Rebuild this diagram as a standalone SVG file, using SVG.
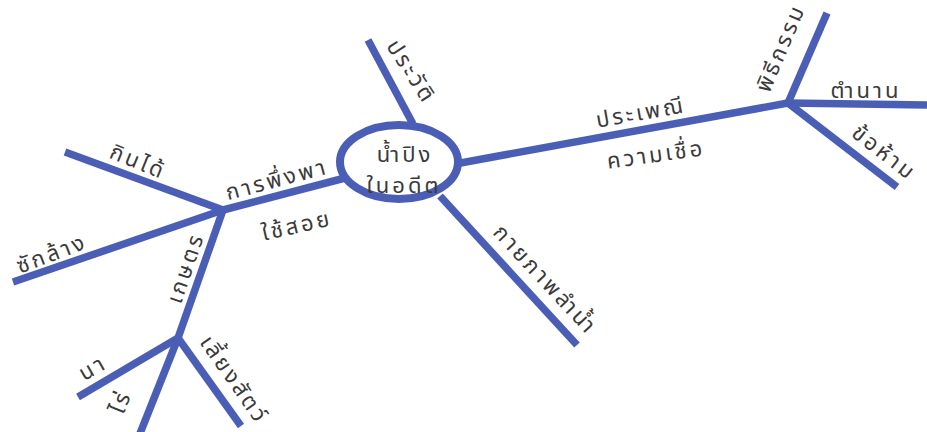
<svg xmlns="http://www.w3.org/2000/svg" width="927" height="432" viewBox="0 0 927 432">
<style>
.ln{stroke:#4b5eb5;stroke-width:7.5;stroke-linecap:butt;fill:none}
.t{font-family:"Noto Sans Thai","Noto Sans","DejaVu Sans",sans-serif;font-size:22px;fill:#3a3a3a;text-anchor:middle;letter-spacing:3px}
.c{font-size:22px;letter-spacing:3px}
</style>
<rect width="927" height="432" fill="#ffffff"/>
<g id="connectors">
<line class="ln" x1="368" y1="40" x2="413" y2="124"/>
<line class="ln" x1="455" y1="164" x2="788" y2="103"/>
<line class="ln" x1="788" y1="103" x2="827" y2="13"/>
<line class="ln" x1="788" y1="103" x2="927" y2="105"/>
<line class="ln" x1="788" y1="103" x2="897" y2="187"/>
<line class="ln" x1="440" y1="196" x2="577" y2="345"/>
<line class="ln" x1="345" y1="178" x2="223" y2="210"/>
<line class="ln" x1="223" y1="210" x2="65" y2="152"/>
<line class="ln" x1="223" y1="210" x2="13" y2="282"/>
<line class="ln" x1="223" y1="210" x2="178" y2="338"/>
<line class="ln" x1="178" y1="338" x2="78" y2="397"/>
<line class="ln" x1="178" y1="338" x2="139" y2="436"/>
<line class="ln" x1="178" y1="338" x2="241" y2="426"/>
</g>
<g id="center">
<ellipse cx="399" cy="162" rx="59" ry="37" fill="#ffffff" stroke="#4b5eb5" stroke-width="8"/>
<text class="t c" x="405" y="162">น้ำปิง</text>
<text class="t c" x="404" y="193">ในอดีต</text>
</g>
<g id="n-history"><text class="t" transform="translate(411,72) rotate(57)" y="7">ประวัติ</text></g>
<g id="n-tradition"><text class="t" transform="translate(641,113) rotate(-10)" y="7">ประเพณี</text></g>
<g id="n-belief"><text class="t" transform="translate(656,155) rotate(-8)" y="7">ความเชื่อ</text></g>
<g id="n-ritual"><text class="t" transform="translate(781,48) rotate(-67)" y="7">พิธีกรรม</text></g>
<g id="n-legend"><text class="t" transform="translate(866,91)" y="7">ตำนาน</text></g>
<g id="n-taboo"><text class="t" transform="translate(884,153) rotate(38)" y="7">ข้อห้าม</text></g>
<g id="n-physical"><text class="t" transform="translate(545,280) rotate(47)" y="7">กายภาพลำน้ำ</text></g>
<g id="n-reliance"><text class="t" transform="translate(277,180) rotate(-15)" y="7">การพึ่งพา</text></g>
<g id="n-use"><text class="t" transform="translate(297,226) rotate(-13)" y="7">ใช้สอย</text></g>
<g id="n-edible"><text class="t" transform="translate(138,162) rotate(22)" y="7">กินได้</text></g>
<g id="n-washing"><text class="t" transform="translate(52,254) rotate(-21)" y="7">ซักล้าง</text></g>
<g id="n-agri"><text class="t" transform="translate(186,268) rotate(-71)" y="7">เกษตร</text></g>
<g id="n-paddy"><text class="t" transform="translate(93,368) rotate(-30)" y="7">นา</text></g>
<g id="n-field"><text class="t" transform="translate(121,402) rotate(-68)" y="7">ไร่</text></g>
<g id="n-livestock"><text class="t" transform="translate(234,380) rotate(55)" y="7">เลี้ยงสัตว์</text></g>
</svg>
